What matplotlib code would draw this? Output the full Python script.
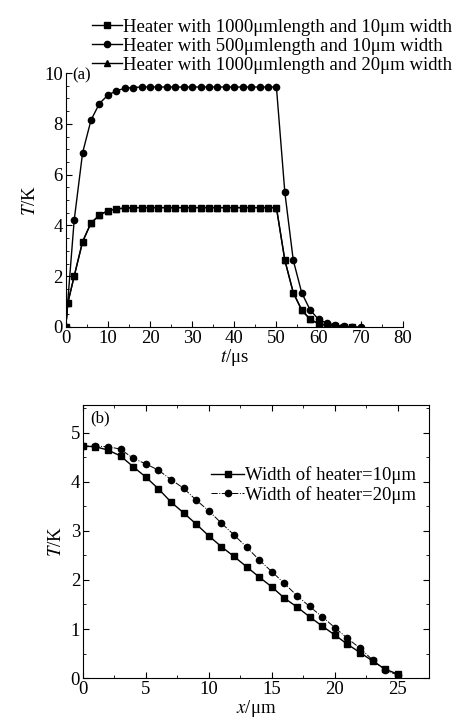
import matplotlib
matplotlib.use("Agg")
import matplotlib.pyplot as plt
from matplotlib.ticker import MultipleLocator

plt.rcParams['font.family'] = ['Liberation Serif', 'DejaVu Serif']
plt.rcParams['mathtext.fontset'] = 'stix'

# ---- panel (a): transient temperature
t_sq = [0, 0.5, 2, 4, 6, 8, 10, 12, 14, 16, 18, 20, 22, 24, 26, 28, 30, 32, 34, 36, 38, 40,
        42, 44, 46, 48, 50, 52, 54, 56, 58, 60, 62, 64, 66, 68]
T_sq = [0, 0.95, 2.0, 3.36, 4.1, 4.4, 4.58, 4.65, 4.68, 4.7, 4.7, 4.7, 4.7, 4.7, 4.7, 4.7,
        4.7, 4.7, 4.7, 4.7, 4.7, 4.7, 4.7, 4.7, 4.7, 4.7, 4.7, 2.63, 1.35, 0.67, 0.3, 0.13,
        0.06, 0.03, 0.01, 0.0]
t_ci = [0, 2, 4, 6, 8, 10, 12, 14, 16, 18, 20, 22, 24, 26, 28, 30, 32, 34, 36, 38, 40,
        42, 44, 46, 48, 50, 52, 54, 56, 58, 60, 62, 64, 66, 68, 70]
T_ci = [0, 4.2, 6.86, 8.15, 8.8, 9.13, 9.3, 9.4, 9.43, 9.45, 9.45, 9.45, 9.45, 9.45, 9.45,
        9.45, 9.45, 9.45, 9.45, 9.45, 9.45, 9.45, 9.45, 9.45, 9.45, 9.45, 5.3, 2.63, 1.35,
        0.67, 0.3, 0.15, 0.07, 0.03, 0.01, 0.0]
T_tr = T_sq
labels_a = ["Heater with 1000μmlength and 10μm width",
            "Heater with 500μmlength and 10μm width",
            "Heater with 1000μmlength and 20μm width"]

# ---- panel (b): temperature profile across heater
x_b = list(range(26))
T_10 = [4.73, 4.72, 4.65, 4.53, 4.31, 4.1, 3.86, 3.59, 3.37, 3.14, 2.9, 2.68, 2.48, 2.27,
        2.06, 1.86, 1.63, 1.45, 1.25, 1.06, 0.88, 0.69, 0.52, 0.35, 0.18, 0.08]
T_20 = [4.73, 4.73, 4.72, 4.67, 4.48, 4.37, 4.24, 4.05, 3.87, 3.63, 3.41, 3.16, 2.92, 2.67,
        2.41, 2.17, 1.93, 1.68, 1.46, 1.25, 1.03, 0.81, 0.61, 0.37, 0.16, 0.06]
labels_b = ["Width of heater=10μm", "Width of heater=20μm"]

fig = plt.figure(figsize=(4.63, 7.26), dpi=100)
fs = 13.5

ax1 = fig.add_axes([0.142, 0.5496, 0.728, 0.3498])
ax1.plot(t_sq, T_sq, '-s', color='k', lw=1, ms=4.5, label=labels_a[0])
ax1.plot(t_ci, T_ci, '-o', color='k', lw=1, ms=4.5, label=labels_a[1])
ax1.plot(t_sq, T_tr, '-^', color='k', lw=1, ms=4.5, label=labels_a[2])
ax1.set_xlim(0, 80)
ax1.set_ylim(0, 10)
ax1.spines['top'].set_visible(False)
ax1.spines['right'].set_visible(False)
ax1.xaxis.set_major_locator(MultipleLocator(10))
ax1.xaxis.set_minor_locator(MultipleLocator(5))
ax1.yaxis.set_major_locator(MultipleLocator(2))
ax1.yaxis.set_minor_locator(MultipleLocator(0.5))
ax1.tick_params(which='both', direction='in', labelsize=fs, pad=2)
ax1.tick_params(which='major', length=4)
ax1.tick_params(which='minor', length=2)
ax1.set_xlabel(r"$t$/μs", fontsize=fs, labelpad=0)
ax1.set_ylabel(r"$T$/K", fontsize=fs)
ax1.text(0.02, 0.99, "(a)", transform=ax1.transAxes, fontsize=fs - 1.5, va='center')
ax1.legend(loc='lower right', bbox_to_anchor=(1.175, 0.96), frameon=False, fontsize=fs,
           handlelength=1.6, handletextpad=0.05, labelspacing=0.1, borderpad=0)

ax2 = fig.add_axes([0.179, 0.0661, 0.748, 0.376])
ax2.plot(x_b, T_10, '-s', color='k', lw=1, ms=4.5, label=labels_b[0])
ax2.plot(x_b, T_20, '-.o', color='k', lw=0.7, ms=4.5, label=labels_b[1])
ax2.set_xlim(0, 27.5)
ax2.set_ylim(0, 5.57)
ax2.xaxis.set_major_locator(MultipleLocator(5))
ax2.xaxis.set_minor_locator(MultipleLocator(2.5))
ax2.yaxis.set_major_locator(MultipleLocator(1))
ax2.yaxis.set_minor_locator(MultipleLocator(0.5))
ax2.tick_params(which='both', direction='in', labelsize=fs, top=True, right=True, pad=2)
ax2.tick_params(which='major', length=4)
ax2.tick_params(which='minor', length=2)
ax2.set_xlabel(r"$x$/μm", fontsize=fs, labelpad=0)
ax2.set_ylabel(r"$T$/K", fontsize=fs)
ax2.text(0.02, 0.95, "(b)", transform=ax2.transAxes, fontsize=fs - 1.5, va='center')
ax2.legend(loc='upper right', bbox_to_anchor=(0.99, 0.81), frameon=False, fontsize=fs,
           handlelength=1.8, handletextpad=0.05, labelspacing=0.1, borderpad=0)

fig.savefig("out.png", dpi=100)
